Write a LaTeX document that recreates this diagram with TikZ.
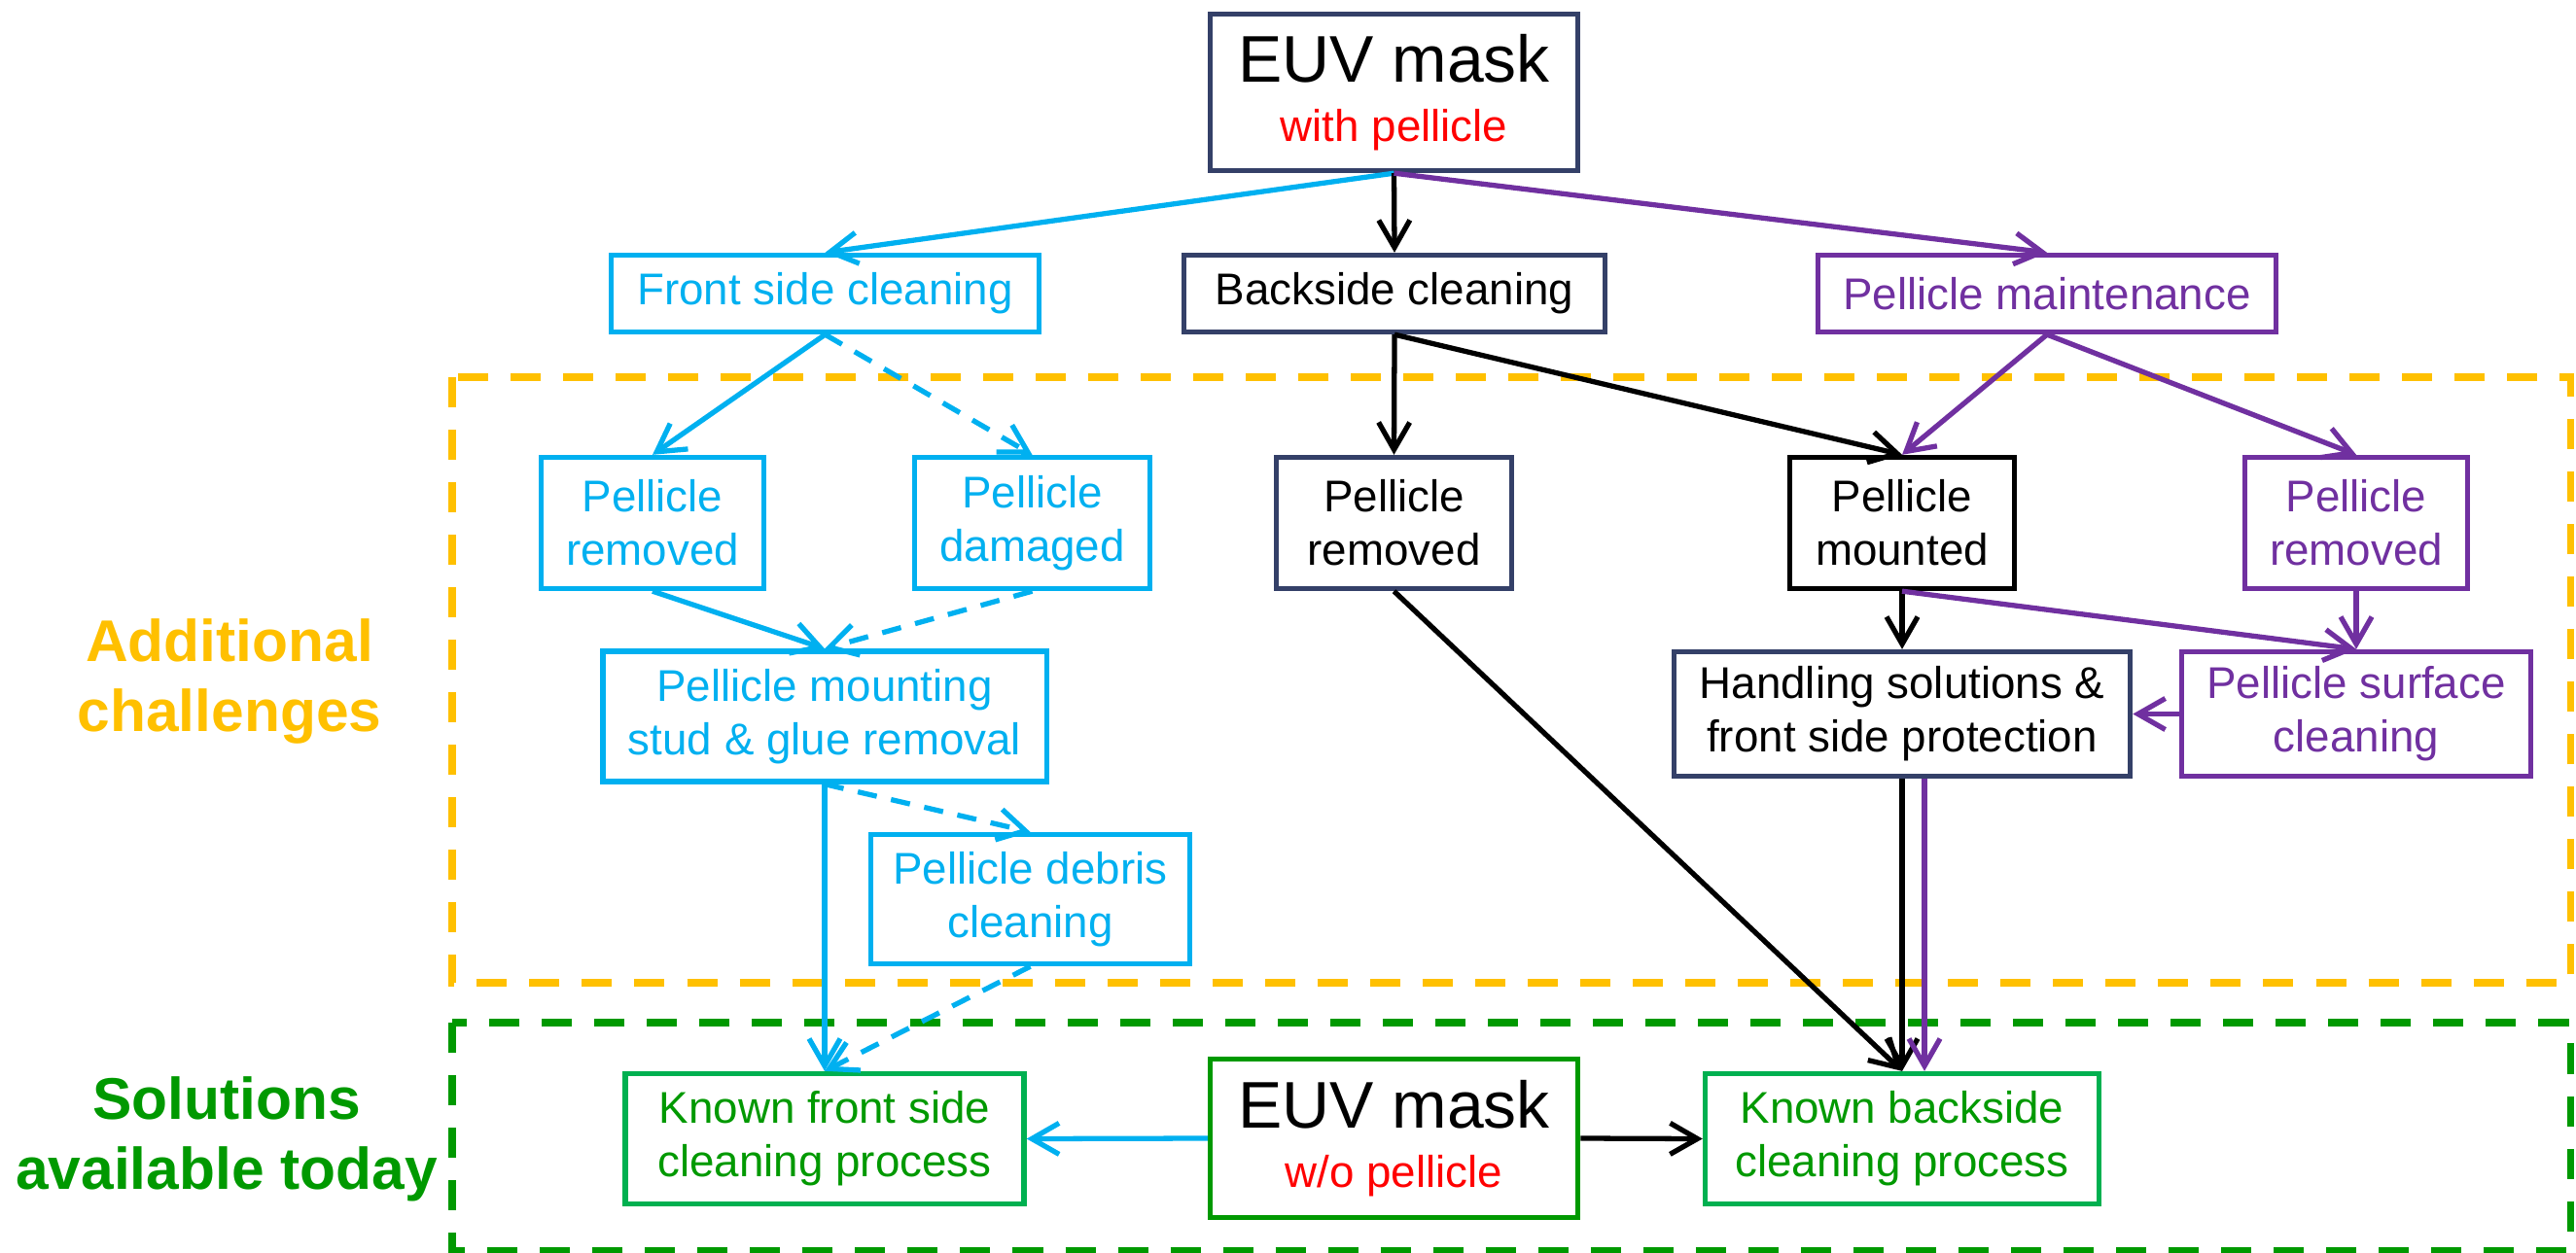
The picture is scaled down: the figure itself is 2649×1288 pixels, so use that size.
\documentclass[tikz,border=0pt]{standalone}
\usepackage{fontspec}
\setmainfont{Liberation Sans}
\usetikzlibrary{arrows.meta}
\definecolor{pblue}{HTML}{00B0F0}
\definecolor{pnavy}{RGB}{52,64,104}
\definecolor{ppurple}{HTML}{7030A0}
\definecolor{pyellow}{HTML}{FFC000}
\definecolor{pgreen}{HTML}{009900}
\definecolor{pgreenbox}{HTML}{00B050}

\begin{document}
\begin{tikzpicture}[x=0.01cm, y=-0.01cm,
  box/.style={draw, line width=1.5pt, inner sep=0pt, align=center, fill=white,
    font=\fontsize{13}{15.6}\selectfont},
  bluebox/.style={box, draw=pblue, text=pblue},
  navybox/.style={box, draw=pnavy, text=black},
  purplebox/.style={box, draw=ppurple, text=ppurple},
  greenbox/.style={box, draw=pgreenbox, text=pgreen},
  maskbox/.style={box, text=black, font=\fontsize{19.3}{17.5}\selectfont},
  arr/.style={line width=1.5pt, -{Straight Barb[length=2.8mm,width=3.2mm]}},
  dsh/.style={dash pattern=on 2mm off 1.5mm},
  zone/.style={line width=2pt, dash pattern=on 3.1mm off 2.3mm},
  side/.style={font=\fontsize{17.2}{20.6}\selectfont\bfseries, align=center}]
\useasboundingbox (0,0) rectangle (2649,1288);
% zones
\draw[zone, pyellow] (465,388) rectangle (2643,1011);
\draw[zone, pgreen] (465,1052) rectangle (2643,1286);
\node[side, pyellow] (addch) at (236,701) {Additional\\challenges};
\node[side, pgreen] (solav) at (233,1172) {Solutions\\available today};

% top
\node[maskbox, draw=pnavy, minimum width=3.78cm, minimum height=1.61cm] (mask) at (1433.5,95)
  {EUV mask\\{\fontsize{13}{15.6}\selectfont\color{red}with pellicle}};
\node[bluebox, minimum width=4.40cm, minimum height=0.79cm] (front) at (848.5,302) {Front side cleaning};
\node[navybox, minimum width=4.33cm, minimum height=0.79cm] (back) at (1434,302) {Backside cleaning};
\node[purplebox, minimum width=4.71cm, minimum height=0.79cm] (maint) at (2105,302) {Pellicle maintenance};

% second row
\node[bluebox, minimum width=2.29cm, minimum height=1.35cm] (remF) at (671,538) {Pellicle\\removed};
\node[bluebox, minimum width=2.42cm, minimum height=1.35cm] (dam) at (1061.5,538) {Pellicle\\damaged};
\node[navybox, minimum width=2.42cm, minimum height=1.35cm] (remB) at (1433.5,538) {Pellicle\\removed};
\node[box, draw=black, minimum width=2.31cm, minimum height=1.35cm] (mount) at (1956,538) {Pellicle\\mounted};
\node[purplebox, minimum width=2.29cm, minimum height=1.35cm] (remP) at (2423,538) {Pellicle\\removed};

% third row
\node[bluebox, minimum width=4.56cm, minimum height=1.34cm] (stud) at (848,737) {Pellicle mounting\\stud \& glue removal};
\node[navybox, minimum width=4.69cm, minimum height=1.28cm] (handle) at (1956,734.5) {Handling solutions \&\\front side protection};
\node[purplebox, minimum width=3.59cm, minimum height=1.28cm] (surf) at (2423,734.5) {Pellicle surface\\cleaning};
\node[bluebox, minimum width=3.28cm, minimum height=1.33cm] (debris) at (1059.5,925) {Pellicle debris\\cleaning};

% bottom
\node[greenbox, minimum width=4.10cm, minimum height=1.34cm] (knownF) at (848,1171.5) {Known front side\\cleaning process};
\node[maskbox, draw=pgreen, minimum width=3.78cm, minimum height=1.63cm] (mask2) at (1433.5,1171)
  {EUV mask\\{\fontsize{13}{15.6}\selectfont\color{red}w/o pellicle}};
\node[greenbox, minimum width=4.05cm, minimum height=1.34cm] (knownB) at (1956,1171.5) {Known backside\\cleaning process};

% connectors
\draw[arr, pblue] (mask.south) -- (front.north);
\draw[arr] (mask.south) -- (back.north);
\draw[arr, ppurple] (mask.south) -- (maint.north);
\draw[arr, pblue] (front.south) -- (remF.north);
\draw[arr, pblue, dsh] (front.south) -- (dam.north);
\draw[arr, pblue] (remF.south) -- (stud.north);
\draw[arr, pblue, dsh] (dam.south) -- (stud.north);
\draw[arr] (back.south) -- (remB.north);
\draw[arr] (back.south) -- (mount.north);
\draw[arr, ppurple] (maint.south) -- (mount.north);
\draw[arr, ppurple] (maint.south) -- (remP.north);
\draw[arr] (mount.south) -- (handle.north);
\draw[arr, ppurple] (mount.south) -- (surf.north);
\draw[arr, ppurple] (remP.south) -- (surf.north);
\draw[arr, ppurple] (surf.west) -- (handle.east);
\draw[arr, pblue] (stud.south) -- (knownF.north);
\draw[arr, pblue, dsh] (stud.south) -- (debris.north);
\draw[arr, pblue, dsh] (debris.south) -- (knownF.north);
\draw[arr] (remB.south) -- (knownB.north);
\draw[arr] (handle.south) -- (knownB.north);
\draw[arr, ppurple] ([xshift=0.23cm]handle.south) -- ([xshift=0.23cm]knownB.north);
\draw[arr, pblue] (mask2.west) -- (knownF.east);
\draw[arr] (mask2.east) -- (knownB.west);
\end{tikzpicture}
\end{document}
